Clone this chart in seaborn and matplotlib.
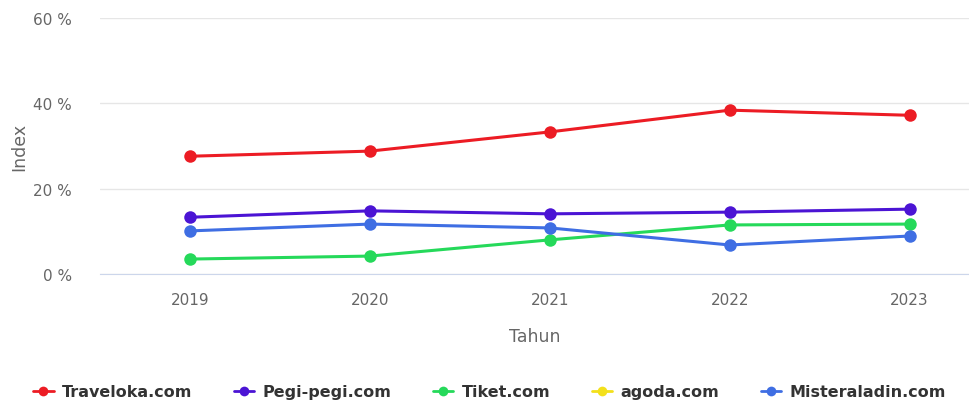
import numpy as np
import pandas as pd
import matplotlib
matplotlib.use("Agg")
import matplotlib.pyplot as plt
from matplotlib.lines import Line2D
import seaborn as sns

years = ["2019", "2020", "2021", "2022", "2023"]
traveloka = [27.6, 28.8, 33.3, 38.4, 37.2]
pegipegi = [13.3, 14.8, 14.1, 14.5, 15.2]
tiket = [3.5, 4.2, 8.0, 11.5, 11.7]
agoda = [np.nan, np.nan, np.nan, np.nan, np.nan]
misteraladin = [10.1, 11.7, 10.8, 6.8, 8.9]

names = ["Traveloka.com", "Pegi-pegi.com", "Tiket.com", "agoda.com", "Misteraladin.com"]
series = [traveloka, pegipegi, tiket, agoda, misteraladin]
colors = ["#ec1c24", "#4b14d4", "#25d95a", "#f3e01b", "#3f6ee3"]

rows = []
for name, vals in zip(names, series):
    for y, v in zip(years, vals):
        rows.append({"Tahun": y, "Index": v, "Platform": name})
df = pd.DataFrame(rows)

sns.set_style("white")
plt.rcParams["font.family"] = ["DejaVu Sans"]

fig = plt.figure(figsize=(9.69, 4.06), dpi=100)
ax = fig.add_axes([100 / 969, (406 - 275) / 406, (969 - 100) / 969, (275 - 19) / 406])

palette = dict(zip(names, colors))
sns.lineplot(data=df, x="Tahun", y="Index", hue="Platform", hue_order=names,
             palette=palette, marker="o", markersize=9, markeredgewidth=0,
             linewidth=2.2, legend=False, ax=ax, clip_on=False)

ax.set_ylim(0, 60)
ax.set_xlim(-0.5, 4.33)
ax.set_yticks([0, 20, 40, 60])
ax.set_yticklabels(["0 %", "20 %", "40 %", "60 %"])
ax.grid(axis="y", color="#e6e6e6", linewidth=1)
ax.grid(axis="x", visible=False)
for s in ["top", "right", "left"]:
    ax.spines[s].set_visible(False)
ax.spines["bottom"].set_color("#ccd6eb")
ax.tick_params(axis="both", length=0, labelsize=11, colors="#666666")
ax.tick_params(axis="x", pad=13)
ax.tick_params(axis="y", pad=20)
ax.set_xlabel("Tahun", fontsize=12.5, color="#666666", labelpad=14)
ax.set_ylabel("Index", fontsize=12.5, color="#666666", labelpad=4)

handles = [Line2D([0], [0], color=c, lw=2, marker="o", markersize=7, markeredgewidth=0)
           for c in colors]
fig.legend(handles, names, loc="center", bbox_to_anchor=(0.505, 1 - 393 / 406), ncol=5,
           frameon=False, handlelength=1.3, columnspacing=2.6, handletextpad=0.5,
           prop={"family": ["DejaVu Sans"], "weight": "bold", "size": 11.5},
           labelcolor="#333333")

fig.savefig("out.png", dpi=100)
